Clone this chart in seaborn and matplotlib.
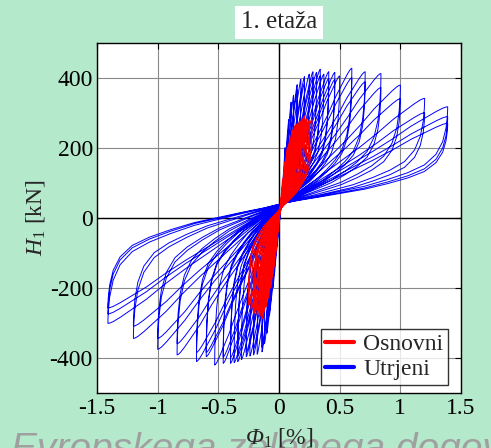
import matplotlib
matplotlib.use("Agg")
import matplotlib.pyplot as plt
from matplotlib.lines import Line2D
import seaborn as sns
import pandas as pd

# --- data -----------------------------------------------------------------
# pinch point where all loops cross (x in %, H in kN)
blue_pinch = (0.02, 40)
red_pinch = (0.01, 25)

# Utrjeni (strengthened) cycles: positive peak / negative peak
blue_xp = [0.05, 0.08, 0.10, 0.12, 0.15, 0.15, 0.18, 0.21, 0.21, 0.25, 0.28, 0.28,
           0.31, 0.34, 0.34, 0.37, 0.41, 0.41, 0.46, 0.46, 0.50, 0.60, 0.60, 0.71,
           0.71, 0.84, 0.84, 1.00, 1.00, 1.20, 1.20, 1.39, 1.39, 1.39]
blue_Fp = [200, 280, 330, 350, 380, 365, 395, 403, 385, 410, 417, 400,
           415, 424, 405, 410, 417, 398, 415, 395, 405, 427, 400, 417,
           388, 412, 372, 379, 340, 341, 300, 317, 289, 270]
blue_xn = [-0.05, -0.08, -0.10, -0.12, -0.14, -0.14, -0.18, -0.21, -0.21, -0.24, -0.27, -0.27,
           -0.31, -0.34, -0.34, -0.37, -0.40, -0.40, -0.46, -0.46, -0.53, -0.60, -0.60, -0.68,
           -0.68, -0.84, -0.84, -1.00, -1.00, -1.20, -1.20, -1.41, -1.41, -1.41]
blue_Fn = [-200, -280, -330, -360, -383, -370, -390, -392, -375, -395, -397, -385,
           -405, -411, -395, -414, -416, -400, -416, -398, -421, -397, -385, -411,
           -385, -392, -360, -376, -345, -345, -310, -302, -275, -258]

# Osnovni (original) cycles
red_xp = [0.03, 0.05, 0.05, 0.07, 0.07, 0.09, 0.09, 0.11, 0.11, 0.13, 0.13, 0.15,
          0.15, 0.17, 0.17, 0.19, 0.19, 0.21, 0.21, 0.23, 0.23, 0.25, 0.25, 0.27]
red_Fp = [110, 160, 150, 200, 190, 225, 215, 250, 240, 262, 252, 268,
          258, 275, 262, 282, 268, 290, 275, 282, 270, 277, 265, 280]
red_xn = [-0.03, -0.05, -0.05, -0.07, -0.07, -0.09, -0.09, -0.11, -0.11, -0.13, -0.13, -0.14,
          -0.14, -0.16, -0.16, -0.18, -0.18, -0.20, -0.20, -0.21, -0.21, -0.23, -0.25, -0.25]
red_Fn = [-110, -160, -150, -200, -190, -230, -220, -255, -245, -275, -262, -289,
          -270, -282, -268, -276, -262, -270, -258, -273, -262, -260, -249, -240]

# normalised shape of one half-loop (fraction of the way pinch -> peak)
load_fx = [0.00, 0.08, 0.18, 0.30, 0.42, 0.55, 0.67, 0.78, 0.87, 0.93, 0.97, 0.99, 1.00]
load_fy = [0.00, 0.07, 0.17, 0.29, 0.41, 0.54, 0.67, 0.80, 0.89, 0.95, 0.985, 0.997, 1.00]
unload_fx = [1.00, 0.998, 0.99, 0.97, 0.93, 0.86, 0.76, 0.64, 0.50, 0.36, 0.22, 0.10, 0.00]
unload_fy = [0.97, 0.90, 0.78, 0.64, 0.51, 0.40, 0.32, 0.25, 0.18, 0.13, 0.08, 0.04, 0.00]

x_ticks = [-1.5, -1, -0.5, 0, 0.5, 1, 1.5]
x_ticklabels = ["-1.5", "-1", "-0.5", "0", "0.5", "1", "1.5"]
y_ticks = [-400, -200, 0, 200, 400]
y_ticklabels = ["-400", "-200", "0", "200", "400"]

BG = "#b5e9cc"


def loop_path(pinch, xp, Fp, xn, Fn, name):
    """chain the half-loops of all cycles into one ordered path"""
    px, py = pinch
    xs, ys = [0.0], [0.0]
    for a, fa, b, fb in zip(xp, Fp, xn, Fn):
        for xk, Fk in [(a, fa), (b, fb)]:
            for fx, fy in zip(load_fx + unload_fx, load_fy + unload_fy):
                xs.append(px + (xk - px) * fx)
                ys.append(py + (Fk - py) * fy)
    return pd.DataFrame({"phi": xs, "H": ys, "series": name,
                         "step": range(len(xs))})


blue_df = loop_path(blue_pinch, blue_xp, blue_Fp, blue_xn, blue_Fn, "Utrjeni")
red_df = loop_path(red_pinch, red_xp, red_Fp, red_xn, red_Fn, "Osnovni")

sns.set_style("white")
plt.rcParams["font.family"] = ["Liberation Serif", "DejaVu Serif"]
plt.rcParams["mathtext.fontset"] = "custom"
plt.rcParams["mathtext.rm"] = "Liberation Serif"
plt.rcParams["mathtext.it"] = "Liberation Serif:italic"
# italic upper-case Greek (mathtext keeps \mathit Greek capitals upright)
plt.rcParams["mathtext.sf"] = "Liberation Serif:italic"
plt.rcParams["axes.unicode_minus"] = False

fig = plt.figure(figsize=(4.91, 4.48), dpi=100, facecolor=BG)
ax = fig.add_axes([0.1976, 0.1234, 0.7413, 0.7813])
ax.set_facecolor("white")

# grid + black zero lines
for xv in x_ticks:
    ax.axvline(xv, color="#8a8a8a", lw=0.8, zorder=0)
for yv in y_ticks:
    ax.axhline(yv, color="#8a8a8a", lw=0.8, zorder=0)
ax.axhline(0, color="black", lw=1.0, zorder=0.5)
ax.axvline(0, color="black", lw=1.0, zorder=0.5)

sns.lineplot(data=blue_df, x="phi", y="H", sort=False, estimator=None,
             color="#0000ff", lw=0.7, ax=ax, legend=False)
sns.lineplot(data=red_df, x="phi", y="H", sort=False, estimator=None,
             color="#ff0000", lw=0.9, ax=ax, legend=False)

ax.set_xlim(-1.5, 1.5)
ax.set_ylim(-500, 500)
ax.set_xticks(x_ticks)
ax.set_xticklabels(x_ticklabels)
ax.set_yticks(y_ticks)
ax.set_yticklabels(y_ticklabels)
ax.tick_params(direction="in", top=True, right=True, length=4, width=0.8,
               labelsize=17, colors="black")
ax.tick_params(axis="x", pad=4)
ax.tick_params(axis="y", pad=3)
for sp in ax.spines.values():
    sp.set_color("black")
    sp.set_linewidth(1.0)

ax.set_xlabel(r"$\mathsf{Φ}_1$ [%]", fontsize=17, labelpad=5)
ax.set_ylabel(r"$\mathit{H}_1$ [kN]", fontsize=17, labelpad=2)

ax.text(0.5, 1.058, "1. etaža", transform=ax.transAxes, ha="center", va="center",
        fontsize=18, bbox=dict(boxstyle="square,pad=0.22", facecolor="white",
                               edgecolor="none"))

handles = [Line2D([], [], color="#ff0000", lw=3),
           Line2D([], [], color="#0000ff", lw=3)]
leg = ax.legend(handles, ["Osnovni", "Utrjeni"], loc="lower right",
                bbox_to_anchor=(0.964, 0.022), borderaxespad=0, fontsize=17,
                frameon=True, fancybox=False, handlelength=1.2,
                handletextpad=0.4, labelspacing=0.15, borderpad=0.2)
leg.get_frame().set_edgecolor("black")
leg.get_frame().set_linewidth(1.0)

# slide footer text sitting behind the axis label
fig.text(0.022, -0.027, "Evropskega zelenega dogovora", fontsize=28,
         style="italic", family="Liberation Sans", color="#a0a0a0",
         va="baseline", ha="left", zorder=-1)

fig.savefig("out.png", dpi=100, facecolor=BG)
